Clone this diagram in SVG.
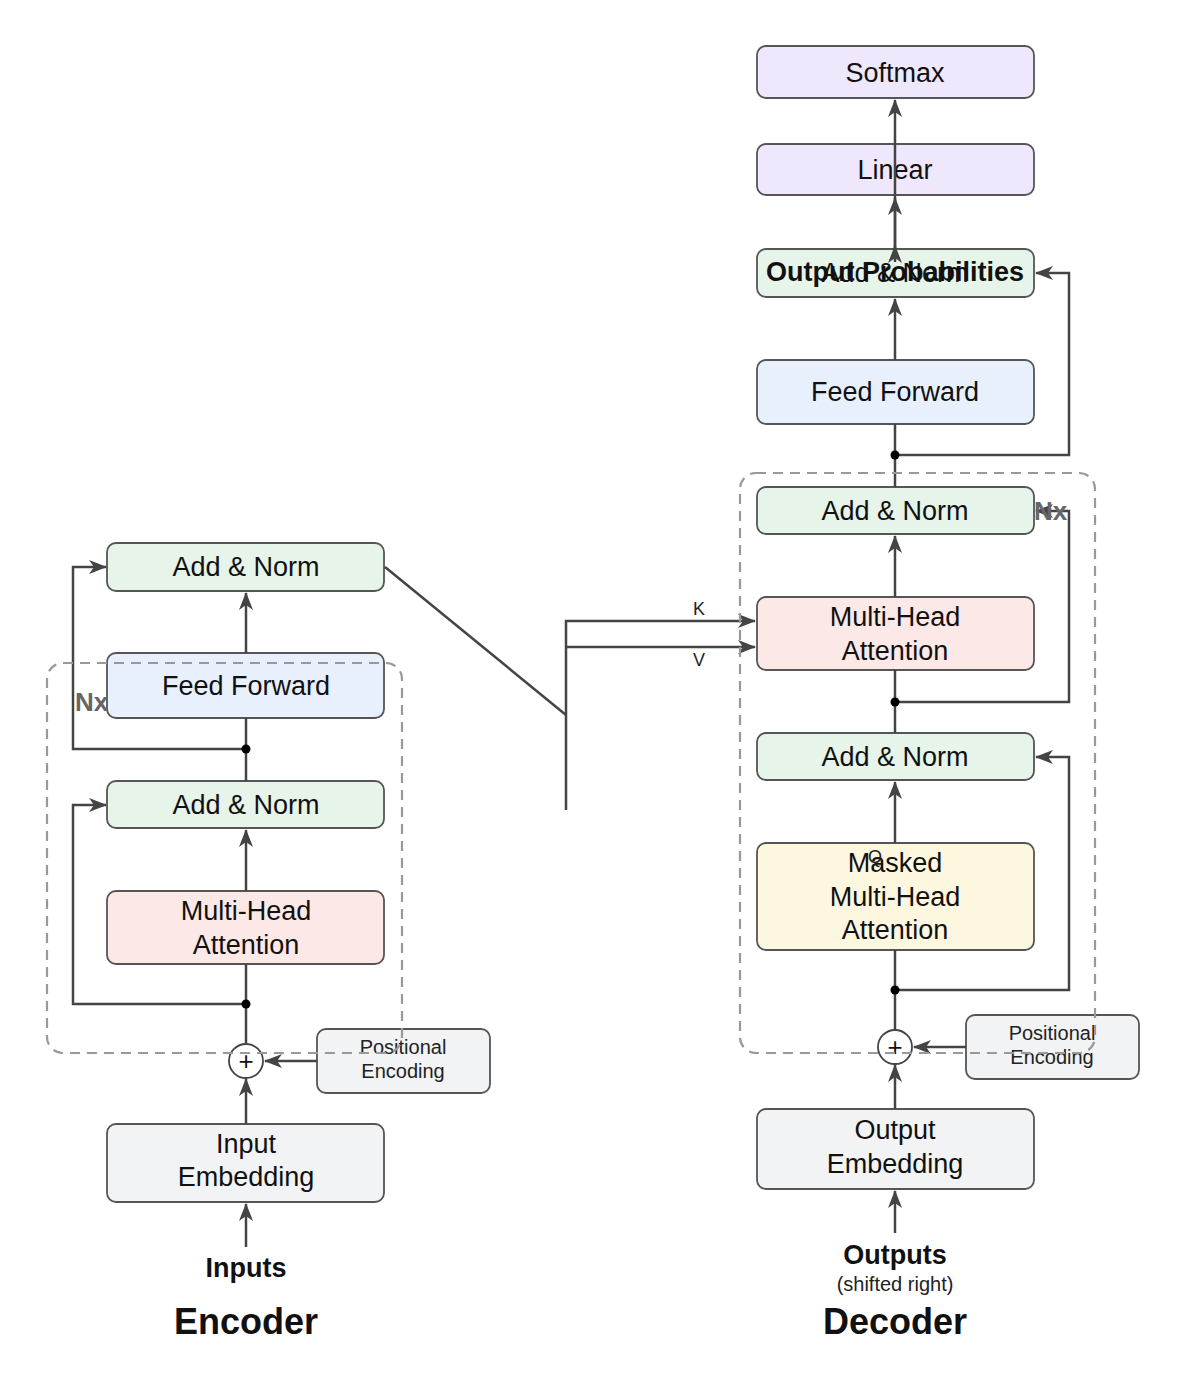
<svg xmlns="http://www.w3.org/2000/svg" width="1187" height="1392" viewBox="0 0 1187 1392">
<defs>
<marker id="arr" markerUnits="userSpaceOnUse" markerWidth="18" markerHeight="14" viewBox="0 0 18 14" refX="17" refY="7" orient="auto">
<path d="M0,0 L18,7 L0,14 L5,7 z" fill="#444"/>
</marker>
<style>
.box{stroke:#555;stroke-width:1.8}
.g{fill:#e6f4ea}.b{fill:#e8f0fe}.p{fill:#fce8e6}.y{fill:#fef7e0}.v{fill:#efe7fb}.n{fill:#f1f3f4}
.t{font-family:"Liberation Sans",Arial,sans-serif;font-size:27px;fill:#111;text-anchor:middle}
.s{font-family:"Liberation Sans",Arial,sans-serif;font-size:20px;fill:#222;text-anchor:middle}
.pl{font-family:"Liberation Sans",Arial,sans-serif;font-size:26px;fill:#111;text-anchor:middle}
.bold{font-weight:bold}
.ln{fill:none;stroke:#444;stroke-width:2.5}
.dash{fill:none;stroke:#999;stroke-width:2.2;stroke-dasharray:10,7}
.nx{font-family:"Liberation Sans",Arial,sans-serif;font-size:26px;font-weight:bold;fill:#666}
</style>
</defs>
<rect width="1187" height="1392" fill="#fff"/>

<g id="enc-addnorm2"><rect class="box g" x="107" y="543" width="277" height="48" rx="9"/><text class="t" x="246" y="576">Add &amp; Norm</text></g>
<g id="enc-ff"><rect class="box b" x="107" y="653" width="277" height="65" rx="9"/><text class="t" x="246" y="695">Feed Forward</text></g>
<g id="enc-addnorm1"><rect class="box g" x="107" y="781" width="277" height="47" rx="9"/><text class="t" x="246" y="814">Add &amp; Norm</text></g>
<g id="enc-mha"><rect class="box p" x="107" y="891" width="277" height="73" rx="9"/><text class="t" x="246" y="920">Multi-Head</text><text class="t" x="246" y="954">Attention</text></g>
<g id="enc-plus"><circle cx="246" cy="1061" r="17" fill="#fff" stroke="#444" stroke-width="1.8"/><text class="pl" x="246" y="1070">+</text></g>
<g id="enc-pos"><rect class="box n" x="317" y="1029" width="173" height="64" rx="9"/><text class="s" x="403" y="1054">Positional</text><text class="s" x="403" y="1078">Encoding</text></g>
<g id="enc-emb"><rect class="box n" x="107" y="1124" width="277" height="78" rx="9"/><text class="t" x="246" y="1153">Input</text><text class="t" x="246" y="1186">Embedding</text></g>
<g id="inputs"><text class="t bold" x="246" y="1277">Inputs</text></g>
<g id="encoder-title"><text class="t bold" x="246" y="1334" style="font-size:36px">Encoder</text></g>

<g id="dec-softmax"><rect class="box v" x="757" y="46" width="277" height="52" rx="9"/><text class="t" x="895" y="82">Softmax</text></g>
<g id="dec-linear"><rect class="box v" x="757" y="144" width="277" height="51" rx="9"/><text class="t" x="895" y="179">Linear</text></g>
<g id="dec-addnorm3"><rect class="box g" x="757" y="249" width="277" height="48" rx="9"/><text class="t" x="895" y="282">Add &amp; Norm</text><text class="t bold" x="895" y="281">Output Probabilities</text></g>
<g id="dec-ff"><rect class="box b" x="757" y="360" width="277" height="64" rx="9"/><text class="t" x="895" y="401">Feed Forward</text></g>
<g id="dec-addnorm2"><rect class="box g" x="757" y="487" width="277" height="47" rx="9"/><text class="t" x="895" y="520">Add &amp; Norm</text></g>
<g id="dec-mha"><rect class="box p" x="757" y="597" width="277" height="73" rx="9"/><text class="t" x="895" y="626">Multi-Head</text><text class="t" x="895" y="660">Attention</text></g>
<g id="dec-addnorm1"><rect class="box g" x="757" y="733" width="277" height="47" rx="9"/><text class="t" x="895" y="766">Add &amp; Norm</text></g>
<g id="dec-masked"><rect class="box y" x="757" y="843" width="277" height="107" rx="9"/><text class="t" x="895" y="872">Masked</text><text class="t" x="895" y="906">Multi-Head</text><text class="t" x="895" y="939">Attention</text></g>
<g id="dec-plus"><circle cx="895" cy="1047" r="17" fill="#fff" stroke="#444" stroke-width="1.8"/><text class="pl" x="895" y="1056">+</text></g>
<g id="dec-pos"><rect class="box n" x="966" y="1015" width="173" height="64" rx="9"/><text class="s" x="1052" y="1040">Positional</text><text class="s" x="1052" y="1064">Encoding</text></g>
<g id="dec-emb"><rect class="box n" x="757" y="1109" width="277" height="80" rx="9"/><text class="t" x="895" y="1139">Output</text><text class="t" x="895" y="1173">Embedding</text></g>
<g id="outputs"><text class="t bold" x="895" y="1264">Outputs</text><text class="s" x="895" y="1291">(shifted right)</text></g>
<g id="decoder-title"><text class="t bold" x="895" y="1334" style="font-size:36px">Decoder</text></g>

<g id="connectors">
<path class="ln" d="M246,1247 L246,1204" marker-end="url(#arr)"/>
<path class="ln" d="M246,1124 L246,1079" marker-end="url(#arr)"/>
<path class="ln" d="M317,1061 L265,1061" marker-end="url(#arr)"/>
<path class="ln" d="M246,1044 L246,964"/>
<path class="ln" d="M246,891 L246,830" marker-end="url(#arr)"/>
<path class="ln" d="M246,781 L246,718"/>
<path class="ln" d="M246,653 L246,593" marker-end="url(#arr)"/>
<path class="ln" d="M246,1004 L73,1004 L73,805 L106,805" marker-end="url(#arr)"/>
<path class="ln" d="M246,749 L73,749 L73,567 L106,567" marker-end="url(#arr)"/>
<circle cx="246" cy="1004" r="4.5" fill="#000"/>
<circle cx="246" cy="749" r="4.5" fill="#000"/>
<path class="ln" d="M385,567 L566,715"/>
<path class="ln" d="M566,810 L566,621 L755,621" marker-end="url(#arr)"/>
<path class="ln" d="M566,647 L755,647" marker-end="url(#arr)"/>
<text class="s" x="699" y="615" style="font-size:18px">K</text>
<text class="s" x="699" y="666" style="font-size:18px">V</text>
<path class="ln" d="M895,1233 L895,1191" marker-end="url(#arr)"/>
<path class="ln" d="M895,1109 L895,1065" marker-end="url(#arr)"/>
<path class="ln" d="M966,1047 L914,1047" marker-end="url(#arr)"/>
<path class="ln" d="M895,1030 L895,950"/>
<path class="ln" d="M895,843 L895,782" marker-end="url(#arr)"/>
<path class="ln" d="M895,990 L1069,990 L1069,757 L1036,757" marker-end="url(#arr)"/>
<circle cx="895" cy="990" r="4.5" fill="#000"/>
<path class="ln" d="M895,733 L895,670"/>
<path class="ln" d="M895,597 L895,536" marker-end="url(#arr)"/>
<text class="s" x="875" y="863" style="font-size:18px">Q</text>
<path class="ln" d="M895,702 L1069,702 L1069,511 L1036,511" marker-end="url(#arr)"/>
<circle cx="895" cy="702" r="4.5" fill="#000"/>
<path class="ln" d="M895,487 L895,424"/>
<path class="ln" d="M895,360 L895,299" marker-end="url(#arr)"/>
<path class="ln" d="M895,455 L1069,455 L1069,273 L1036,273" marker-end="url(#arr)"/>
<circle cx="895" cy="455" r="4.5" fill="#000"/>
<path class="ln" d="M895,249 L895,100" marker-end="url(#arr)"/>
<path class="ln" d="M895,249 L895,198" marker-end="url(#arr)"/>
<path class="ln" d="M895,262 L895,246" marker-end="url(#arr)"/>
</g>

<g id="enc-stack">
<rect class="dash" x="47" y="663" width="355" height="390" rx="16"/>
<text class="nx" x="75" y="711">Nx</text>
</g>
<g id="dec-stack">
<rect class="dash" x="740" y="473" width="355" height="580" rx="16"/>
<text class="nx" x="1034" y="520">Nx</text>
</g>
</svg>
